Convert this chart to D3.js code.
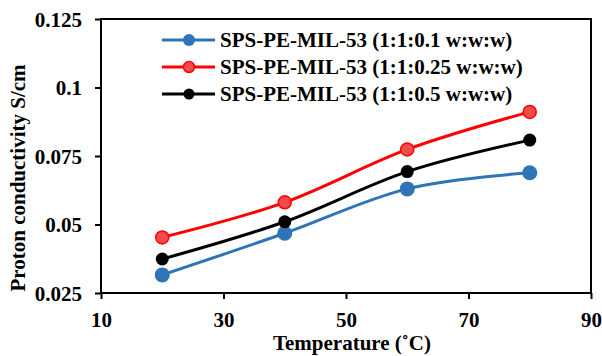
<!DOCTYPE html>
<html><head><meta charset="utf-8">
<script src="https://cdn.jsdelivr.net/npm/d3@7"></script>
<style>body{margin:0;background:#fff}svg{display:block}text{font-family:"Liberation Serif","Times New Roman",serif;font-weight:bold;fill:#000}</style>
</head><body>
<script>
const temps = [20, 40, 60, 80];
const seriesNames = ["SPS-PE-MIL-53 (1:1:0.1 w:w:w)", "SPS-PE-MIL-53 (1:1:0.25 w:w:w)", "SPS-PE-MIL-53 (1:1:0.5 w:w:w)"];
const valuesA = [0.0316, 0.0468, 0.0630, 0.0689];
const valuesB = [0.0453, 0.0581, 0.0774, 0.0911];
const valuesC = [0.0374, 0.0510, 0.0693, 0.0808];
const seriesColors = ["#2E75B6", "#FF0000", "#000000"];
const xTicks = [10, 30, 50, 70, 90];
const yTicks = [0.025, 0.05, 0.075, 0.1, 0.125];
const yTickLabels = ["0.025", "0.05", "0.075", "0.1", "0.125"];

const W = 602, H = 356;
const m = {l: 101, t: 19, r: 11, b: 63};
const FS = "21px";
const svg = d3.select("body").append("svg").attr("width", W).attr("height", H);
const x = d3.scaleLinear().domain([10, 90]).range([m.l, W - m.r]);
const y = d3.scaleLinear().domain([0.025, 0.125]).range([H - m.b, m.t]);

const xAxis = svg.append("g").attr("transform", `translate(0,${H - m.b})`)
  .call(d3.axisBottom(x).tickValues(xTicks).tickSize(6).tickSizeOuter(0).tickFormat(d3.format("d")));
const yAxis = svg.append("g").attr("transform", `translate(${m.l},0)`)
  .call(d3.axisLeft(y).tickValues(yTicks).tickSize(6).tickSizeOuter(0).tickFormat((d, i) => yTickLabels[i]));
[xAxis, yAxis].forEach(g => {
  g.select(".domain").remove();
  g.selectAll("line").attr("stroke", "#000").attr("stroke-width", 2);
  g.selectAll("text").style("font-size", FS).style("font-family", "Liberation Serif").style("font-weight", "bold").attr("fill", "#000");
});
xAxis.selectAll("text").attr("y", 34).attr("dy", 0);
yAxis.selectAll("text").attr("x", -19).attr("dy", "0.34em");

svg.append("rect").attr("x", m.l).attr("y", m.t).attr("width", W - m.r - m.l).attr("height", H - m.b - m.t)
  .attr("fill", "none").attr("stroke", "#000").attr("stroke-width", 2);

const all = [valuesA, valuesB, valuesC];
const line = d3.line().x((d, i) => x(temps[i])).y(d => y(d)).curve(d3.curveCatmullRom.alpha(0.5));
const order = [0, 2, 1];
order.forEach(si => {
  const vals = all[si];
  svg.append("path").attr("d", line(vals)).attr("fill", "none").attr("stroke", seriesColors[si]).attr("stroke-width", 3);
  svg.selectAll(null).data(vals).enter().append("circle")
    .attr("cx", (d, i) => x(temps[i])).attr("cy", d => y(d))
    .attr("r", si === 0 ? 7.5 : 6.5)
    .attr("fill", si === 1 ? "#F24B4B" : seriesColors[si])
    .attr("stroke", seriesColors[si]).attr("stroke-width", si === 1 ? 1.5 : 0);
});

const legY = [40, 67, 94];
seriesNames.forEach((n, si) => {
  const g = svg.append("g");
  g.append("line").attr("x1", 162).attr("x2", 215).attr("y1", legY[si]).attr("y2", legY[si])
    .attr("stroke", seriesColors[si]).attr("stroke-width", 3);
  g.append("circle").attr("cx", 189).attr("cy", legY[si]).attr("r", si === 0 ? 6 : 5.5)
    .attr("fill", si === 1 ? "#F24B4B" : seriesColors[si]).attr("stroke", seriesColors[si]).attr("stroke-width", si === 1 ? 1.5 : 0);
  g.append("text").attr("x", 220).attr("y", legY[si]).attr("dy", "0.34em").style("font-size", FS).text(n);
});

svg.append("text").attr("x", 352).attr("y", 350).attr("text-anchor", "middle").style("font-size", FS).text("Temperature (˚C)");
svg.append("text").attr("transform", `translate(25,${(m.t + H - m.b) / 2 + 22}) rotate(-90)`).attr("text-anchor", "middle").style("font-size", FS).text("Proton conductivity S/cm");
</script>
</body></html>
